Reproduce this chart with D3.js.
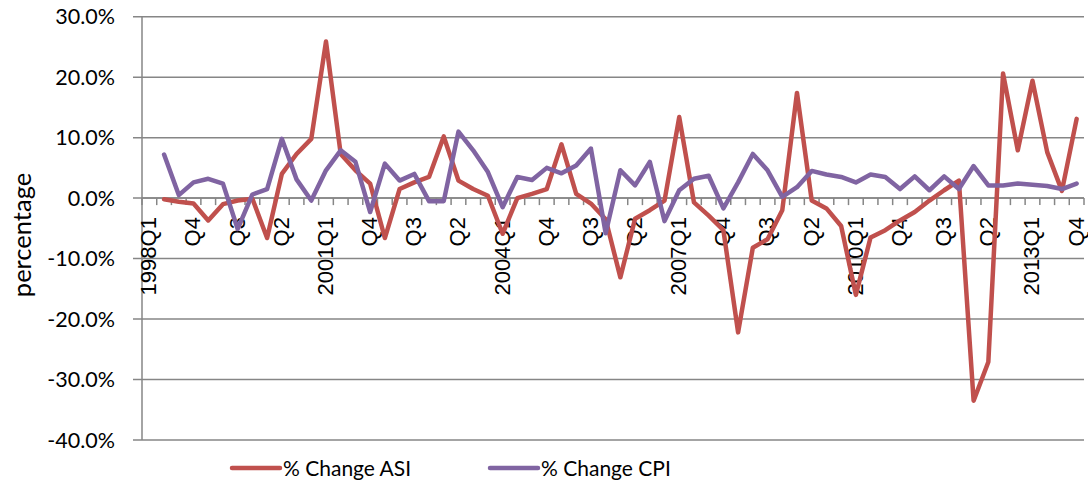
<!DOCTYPE html>
<html>
<head>
<meta charset="utf-8">
<script src="https://cdn.jsdelivr.net/npm/d3@7"></script>
<style>
  body { margin: 0; background: #fff; }
  svg { display: block; }
  .ylab, .legend text, .ytitle { font-family: Lato, "Open Sans", sans-serif; fill: #000; }
  .xlab { font-family: "Liberation Sans", Arial, sans-serif; fill: #000; }
</style>
</head>
<body>
<svg id="chart" width="1088" height="485"></svg>
<script>
// quarters 1998Q1 .. 2013Q4
const years = d3.range(1998, 2014);
const quarters = ['Q1', 'Q2', 'Q3', 'Q4'];
const categories = [];
years.forEach(y => quarters.forEach(q => categories.push(q === 'Q1' ? y + q : q)));

// % change, first quarter has no value
const asi = [null,
  -0.2, -0.6, -0.9, -3.7, -1.0, -0.4, -0.1, -6.6, 4.0, 7.3, 9.8, 25.9, 7.3, 4.6, 2.4,
  -6.6, 1.5, 2.6, 3.5, 10.2, 2.9, 1.5, 0.4, -5.9, 0.0, 0.7, 1.5, 8.9, 0.7, -0.9, -3.5,
  -13.1, -3.4, -2.0, -0.4, 13.4, -0.7, -2.9, -5.3, -22.2, -8.2, -6.8, -2.0, 17.4, -0.4, -1.7,
  -4.6, -16.0, -6.5, -5.3, -3.7, -2.3, -0.4, 1.3, 2.9, -33.5, -27.1, 20.6, 7.9, 19.4, 7.6, 1.2, 13.1];
const cpi = [null,
  7.2, 0.5, 2.6, 3.2, 2.4, -5.1, 0.6, 1.5, 9.8, 3.1, -0.4, 4.6, 7.9, 6.0, -2.3,
  5.7, 2.9, 4.0, -0.5, -0.5, 11.0, 7.9, 4.3, -1.5, 3.5, 3.0, 5.0, 4.1, 5.4, 8.2, -5.8,
  4.6, 2.1, 6.0, -3.8, 1.3, 3.2, 3.7, -1.7, 2.6, 7.3, 4.6, 0.2, 1.8, 4.5, 3.9,
  3.5, 2.6, 3.9, 3.5, 1.5, 3.6, 1.3, 3.6, 1.5, 5.3, 2.1, 2.1, 2.4, 2.2, 2.0, 1.5, 2.4];

const yTicks = [-40, -30, -20, -10, 0, 10, 20, 30];
const seriesNames = ['% Change ASI', '% Change CPI'];
const colors = ['#C0504D', '#8064A2'];

const svg = d3.select('#chart');
const plotLeft = 142, plotRight = 1084, plotTop = 16.7, plotBottom = 440;

const x = d3.scaleBand()
    .domain(d3.range(categories.length))
    .range([plotLeft, plotRight]);

const y = d3.scaleLinear()
    .domain([-40, 30])
    .range([plotBottom, plotTop]);

const grey = '#868686';

// gridlines + y ticks
svg.append('g')
    .selectAll('line')
    .data(yTicks)
    .enter()
    .append('line')
    .attr('x1', plotLeft - 9)
    .attr('x2', plotRight)
    .attr('y1', d => y(d))
    .attr('y2', d => y(d))
    .attr('stroke', grey)
    .attr('stroke-width', 1.5);

svg.append('g')
    .selectAll('text')
    .data(yTicks)
    .enter()
    .append('text')
    .attr('class', 'ylab')
    .attr('x', 115)
    .attr('y', d => y(d))
    .attr('dy', '0.36em')
    .attr('text-anchor', 'end')
    .style('font-size', '21.5px')
    .text(d => d.toFixed(1) + '%');

// y axis line
svg.append('line')
    .attr('x1', plotLeft).attr('x2', plotLeft)
    .attr('y1', plotTop).attr('y2', plotBottom)
    .attr('stroke', grey)
    .attr('stroke-width', 1.5);

// x axis on zero line with ticks between categories
const y0 = y(0);
svg.append('line')
    .attr('x1', plotLeft).attr('x2', plotRight)
    .attr('y1', y0).attr('y2', y0)
    .attr('stroke', grey)
    .attr('stroke-width', 1.5);

const bounds = d3.range(categories.length + 1).map(i => i < categories.length ? x(i) : plotRight);
svg.append('g')
    .selectAll('line')
    .data(bounds)
    .enter()
    .append('line')
    .attr('x1', d => d).attr('x2', d => d)
    .attr('y1', y0).attr('y2', y0 + 7)
    .attr('stroke', grey)
    .attr('stroke-width', 1.5);

svg.append('g')
    .selectAll('text')
    .data(categories.map((c, i) => ({ c, i })).filter(d => d.i % 3 === 0))
    .enter()
    .append('text')
    .attr('class', 'xlab')
    .attr('transform', d => `translate(${x(d.i) + x.bandwidth() / 2 - 1}, ${y0 + 19}) rotate(-90)`)
    .attr('dy', '0.36em')
    .attr('text-anchor', 'end')
    .style('font-size', '22px')
    .text(d => d.c);

// lines
const line = d3.line()
    .defined(d => d.v !== null)
    .x(d => x(d.i) + x.bandwidth() / 2)
    .y(d => y(d.v));

[asi, cpi].forEach((s, k) => {
    svg.append('path')
        .datum(s.map((v, i) => ({ v, i })))
        .attr('fill', 'none')
        .attr('stroke', colors[k])
        .attr('stroke-width', 4.5)
        .attr('stroke-linejoin', 'round')
        .attr('stroke-linecap', 'round')
        .attr('d', line);
});

// y title
svg.append('text')
    .attr('class', 'ytitle')
    .attr('transform', `translate(22, 235) rotate(-90)`)
    .attr('dy', '0.36em')
    .attr('text-anchor', 'middle')
    .style('font-size', '25.5px')
    .text('percentage');

// legend
const legendX = [232, 490];
const legend = svg.append('g').attr('class', 'legend');
seriesNames.forEach((name, k) => {
    legend.append('line')
        .attr('x1', legendX[k]).attr('x2', legendX[k] + 48)
        .attr('y1', 468).attr('y2', 468)
        .attr('stroke', colors[k])
        .attr('stroke-width', 4.5)
        .attr('stroke-linecap', 'round');
    legend.append('text')
        .attr('x', legendX[k] + 51)
        .attr('y', 468)
        .attr('dy', '0.36em')
        .style('font-size', '21px')
        .text(name);
});
</script>
</body>
</html>
